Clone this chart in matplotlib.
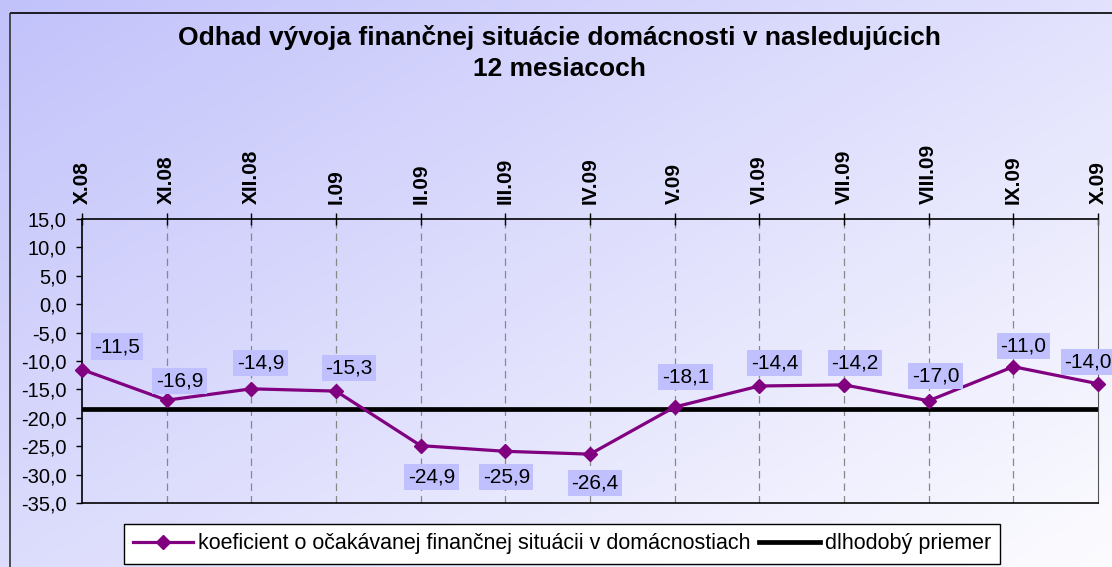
import numpy as np
import matplotlib
matplotlib.use("Agg")
import matplotlib.pyplot as plt
from matplotlib.lines import Line2D

plt.rcParams['font.family'] = ['Liberation Sans', 'DejaVu Sans']

# ---- data ----
months = ["X.08", "XI.08", "XII.08", "I.09", "II.09", "III.09", "IV.09",
          "V.09", "VI.09", "VII.09", "VIII.09", "IX.09", "X.09"]
coef = [-11.5, -16.9, -14.9, -15.3, -24.9, -25.9, -26.4,
        -18.1, -14.4, -14.2, -17.0, -11.0, -14.0]
long_term_avg = -18.5
y_ticks = [15, 10, 5, 0, -5, -10, -15, -20, -25, -30, -35]
title = "Odhad vývoja finančnej situácie domácnosti v nasledujúcich\n12 mesiacoch"
series_name = "koeficient o očakávanej finančnej situácii v domácnostiach"
avg_name = "dlhodobý priemer"

# label placement (layout only): offsets in pixels (dx right, dy up) relative to point
label_offsets = [(35, 23), (13, 19), (9, 26), (13, 23), (11, -31), (1, -26), (5, -29),
                 (11, 30), (15, 23), (11, 22), (7, 25), (10, 21), (-10, 22)]

W, H = 1112, 567
fig = plt.figure(figsize=(W / 100, H / 100), dpi=100)

# gradient background
bg = fig.add_axes([0, 0, 1, 1], zorder=-10)
xx, yy = np.meshgrid(np.linspace(0, 1, 300), np.linspace(0, 1, 200))
t = np.clip((xx * 0.55 + yy * 0.45), 0, 1)  # yy=0 top
c0 = np.array([0xc2, 0xc2, 0xfb]) / 255
c1 = np.array([0xfc, 0xfc, 0xff]) / 255
img = c0[None, None, :] * (1 - t[..., None]) + c1[None, None, :] * t[..., None]
bg.imshow(img, aspect='auto', extent=[0, 1, 0, 1], origin='upper')
bg.set_xlim(0, 1)
bg.set_ylim(0, 1)
bg.axis('off')
# chart border (top & left visible)
bg.plot([10 / W, 1], [1 - 13 / H, 1 - 13 / H], color='black', lw=1.2, solid_capstyle='butt')
bg.plot([10 / W, 10 / W], [0, 1 - 13 / H], color='#333333', lw=1.2, solid_capstyle='butt')

ax = fig.add_axes([82 / W, (H - 503) / H, (1098 - 82) / W, (503 - 219) / H])
ax.patch.set_alpha(0)
x = np.arange(len(months))

for xi in x[1:-1]:
    ax.axvline(xi, color='#888888', lw=0.9, ls=(0, (6, 4)), zorder=1)

ax.axhline(long_term_avg, color='black', lw=3.4, zorder=3, solid_capstyle='round')
ax.plot(x, coef, color='#800080', lw=2.3, marker='D', markersize=7.5, zorder=4, clip_on=False)

for xi, v, (dx, dy) in zip(x, coef, label_offsets):
    ax.annotate(f"{v:.1f}".replace('.', ','), (xi, v), xytext=(dx * 0.72, dy * 0.72),
                textcoords='offset points', ha='center', va='center', fontsize=15,
                bbox=dict(boxstyle='square,pad=0.17', fc='#c0c0fe', ec='none'),
                zorder=5, annotation_clip=False)

ax.set_xlim(0, len(months) - 1)
ax.set_ylim(-35, 15)
ax.set_yticks(y_ticks)
ax.set_yticklabels([f"{v:.1f}".replace('.', ',') for v in y_ticks], fontsize=14.5)
ax.xaxis.tick_top()
ax.set_xticks(x)
ax.set_xticklabels(months, rotation=90, fontsize=15, fontweight='bold')
ax.tick_params(axis='x', direction='inout', length=8, width=1, pad=7)
ax.tick_params(axis='y', direction='out', length=4, width=1, pad=7)
for s in ['left', 'top', 'bottom']:
    ax.spines[s].set_color('black')
    ax.spines[s].set_linewidth(1.2)
ax.spines['right'].set_color('#555555')

fig.text(0.503, 1 - 53 / H, title, ha='center', va='center', fontsize=19, fontweight='bold',
         linespacing=1.33)

handles = [Line2D([], [], color='#800080', lw=2.3, marker='D', markersize=7.5),
           Line2D([], [], color='black', lw=3.4)]
leg = fig.legend(handles, [series_name, avg_name], loc='center', ncol=2,
                 bbox_to_anchor=(562 / W, 1 - 544 / H), fontsize=15.5, frameon=True,
                 fancybox=False, edgecolor='black', framealpha=1, handlelength=2.8,
                 handletextpad=0.25, columnspacing=0.4, borderpad=0.42)
leg.get_frame().set_linewidth(1.0)

fig.savefig("out.png", dpi=100)
